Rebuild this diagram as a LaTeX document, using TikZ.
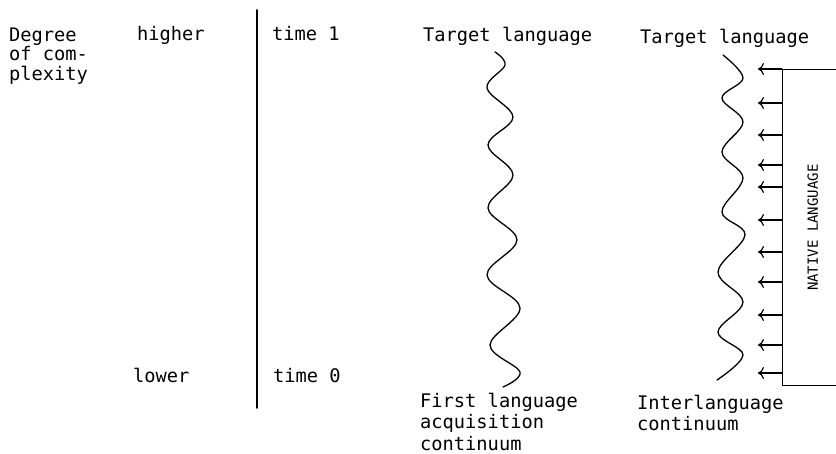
\documentclass[tikz,border=0pt]{standalone}
\usepackage{fontspec}
\setmonofont{DejaVu Sans Mono}
\usepackage{graphicx}
\usetikzlibrary{arrows.meta}

\begin{document}
\begin{tikzpicture}[x=1pt,y=-1pt,line cap=round,
    lbl/.style={font=\ttfamily\fontsize{18.7}{19.5}\selectfont,anchor=base west,inner sep=0pt,align=left},
    wide/.style={font=\ttfamily\fontsize{18.7}{21.5}\selectfont},
    wave/.style={line width=1.3pt,smooth,tension=0.6},
    feed/.style={line width=1.2pt,-{To[length=6pt,width=12pt]}}]

    \useasboundingbox (0,0) rectangle (836,454);

    % multi-line nodes sit on their last line
    \node[lbl] (degree) at (9,80.5) {Degree\\of com-\\plexity};
    \node[lbl] (higher) at (137,41) {higher};
    \node[lbl] (lower) at (133,383) {lower};

    \coordinate (axtop) at (257,10);
    \coordinate (axbot) at (257,408);
    \draw[line width=1.8pt] (axtop) -- (axbot);

    \node[lbl] (time1) at (272,41) {time 1};
    \node[lbl] (time0) at (273,383) {time 0};

    \node[lbl] (target1) at (423,42) {Target language};
    \node[lbl] (target2) at (640,44) {Target language};

    \draw[wave] plot coordinates {(495,52) (505,65) (487,88) (513,117) (488,145) (513,175)
        (488,208) (517,240) (487,275) (520,308) (490,345) (520,372) (503,387)};
    \draw[wave] plot coordinates {(723,55) (743,78) (722,98) (743,122) (722,152) (743,178)
        (722,212) (745,235) (718,272) (743,302) (718,332) (743,355) (717,380)};

    \node[lbl,wide] (first) at (420,450) {First language\\acquisition\\continuum};
    \node[lbl,wide] (inter) at (637,431) {Interlanguage\\continuum};

    \node[draw,line width=1.3pt,anchor=north west,inner sep=0pt,minimum width=60pt,minimum height=316pt,
        font=\ttfamily\fontsize{14}{16}\selectfont] (native) at (782,69) {\rotatebox{90}{NATIVE LANGUAGE}};

    \coordinate (tip) at (758,0);
    \foreach \y in {69,103,135,165,187,220,252,282,315,345,373}
        \draw[feed] (native.west |- 0,\y) -- (tip |- 0,\y);

\end{tikzpicture}
\end{document}
